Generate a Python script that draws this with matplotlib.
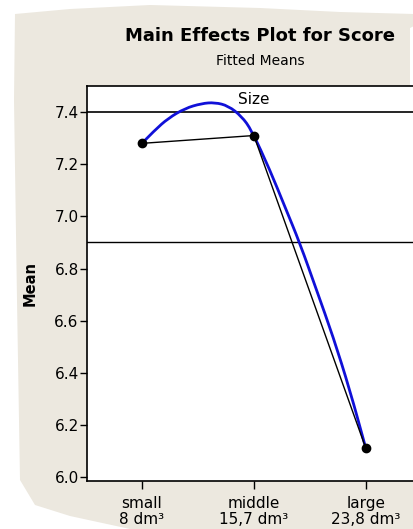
import numpy as np
import matplotlib
matplotlib.use("Agg")
import matplotlib.pyplot as plt
from matplotlib.patches import Polygon, PathPatch
from matplotlib.path import Path

# ---- data ----
levels = ["small", "middle", "large"]
volumes = ["8 dm³", "15,7 dm³", "23,8 dm³"]
means = [7.28, 7.31, 6.11]
yticks = [6.0, 6.2, 6.4, 6.6, 6.8, 7.0, 7.2, 7.4]

# blue fitted curve (x in level positions)
curve_x = [0.0, 0.116, 0.235, 0.384, 0.533, 0.652, 0.771, 0.890, 0.979,
           1.143, 1.277, 1.411, 1.560, 1.708, 1.857, 2.0]
curve_y = [7.28, 7.331, 7.376, 7.414, 7.433, 7.437, 7.424, 7.384, 7.331,
           7.178, 7.037, 6.897, 6.717, 6.538, 6.334, 6.11]

W, H = 414, 529
fig = plt.figure(figsize=(W / 100, H / 100), dpi=100)
fig.patch.set_facecolor("white")

# torn-paper beige background (pixel coords, y from top)
bg = fig.add_axes([0, 0, 1, 1], zorder=-5)
bg.set_xlim(0, W)
bg.set_ylim(H, 0)
bg.axis("off")
poly_px = [(15, 14), (70, 9), (150, 5), (260, 8), (340, 12), (414, 14), (414, 26),
           (410, 28), (410, 86), (414, 86), (414, 529), (130, 529), (70, 516),
           (35, 505), (20, 480), (17, 300), (14, 100)]
bg.add_patch(Polygon(poly_px, closed=True, facecolor="#ece8df", edgecolor="none"))

ax = fig.add_axes([87 / W, 1 - 481 / H, (W - 87) / W, (481 - 86) / H], zorder=1)
ax.set_facecolor("white")
x = np.arange(len(levels))
y = np.array(means)

# smooth rendering of the read curve with quadratic Bezier segments
pts = list(zip(curve_x, curve_y))
verts = [pts[0]]
codes = [Path.MOVETO]
for i in range(1, len(pts) - 1):
    mid = ((pts[i][0] + pts[i + 1][0]) / 2, (pts[i][1] + pts[i + 1][1]) / 2)
    verts += [pts[i], mid]
    codes += [Path.CURVE3, Path.CURVE3]
verts.append(pts[-1])
codes.append(Path.LINETO)
ax.add_patch(PathPatch(Path(verts, codes), facecolor="none", edgecolor="#1010d8",
                       lw=2.0, zorder=3, clip_on=False, capstyle="round",
                       joinstyle="round"))
ax.plot(x, y, color="black", lw=1.0, marker="o", ms=6, zorder=4)

ax.axhline(y.mean(), color="black", lw=1.0, zorder=2)
ax.axhline(7.4, color="black", lw=1.2, zorder=2)
ax.text(1, 7.45, "Size", ha="center", va="center", fontsize=11)

ax.set_xlim(-0.49, 2.43)
ax.set_ylim(5.985, 7.5)
ax.set_yticks(yticks)
ax.set_yticklabels([f"{v:.1f}" for v in yticks], fontsize=11)
ax.set_xticks(x)
ax.set_xticklabels([f"{l}\n{v}" for l, v in zip(levels, volumes)], fontsize=11,
                   linespacing=1.1)
ax.tick_params(axis="y", direction="out", length=5, width=1, pad=1)
ax.tick_params(axis="x", direction="out", length=6, width=1, pad=5)
for s in ["left", "top", "bottom"]:
    ax.spines[s].set_linewidth(1.2)
ax.spines["right"].set_visible(False)
ax.set_ylabel("Mean", fontsize=10.5, fontweight="bold", labelpad=12)

fig.text(260 / W, 1 - 36 / H, "Main Effects Plot for Score", ha="center", va="center",
         fontsize=13, fontweight="bold")
fig.text(260 / W, 1 - 61 / H, "Fitted Means", ha="center", va="center", fontsize=10)

fig.savefig("out.png", dpi=100)
